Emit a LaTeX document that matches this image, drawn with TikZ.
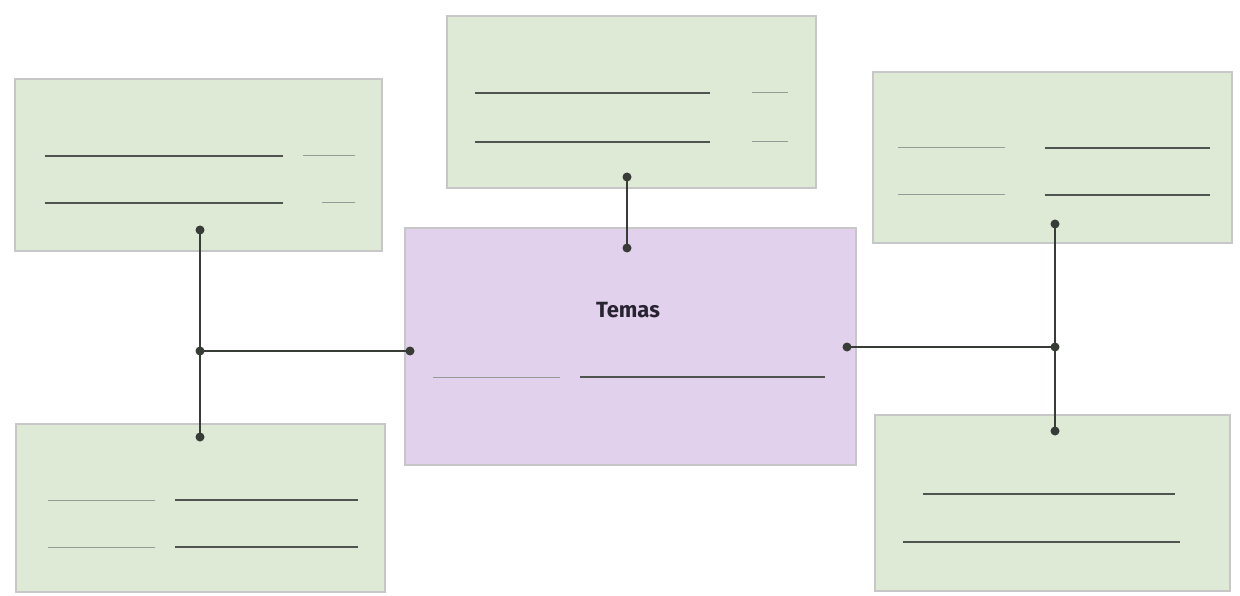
\documentclass[tikz,border=0pt]{standalone}
\usepackage{fontspec}
\setmainfont{Fira Sans}
\begin{document}
\begin{tikzpicture}[x=1pt,y=-1pt,
  greenbox/.style={draw=black!22,line width=1.6pt,fill={rgb,255:red,222;green,233;blue,214}},
  purplebox/.style={draw=black!22,line width=1.6pt,fill={rgb,255:red,226;green,209;blue,236}},
  rule/.style={draw={rgb,255:red,80;green,84;blue,80},line width=1.3pt},
  faint/.style={draw={rgb,255:red,150;green,155;blue,150},line width=1pt},
  dot/.style={circle,fill={rgb,255:red,55;green,60;blue,55},inner sep=0pt,minimum size=9pt},
  link/.style={draw={rgb,255:red,55;green,60;blue,55},line width=1.8pt}]
\useasboundingbox[fill=white] (0,0) rectangle (1240,596);
% boxes
\path[greenbox] (15,79) rectangle (382,251);
\path[greenbox] (447,16) rectangle (816,188);
\path[greenbox] (873,72) rectangle (1232,243);
\path[greenbox] (16,424) rectangle (385,592);
\path[greenbox] (875,415) rectangle (1230,591);
\path[purplebox] (405,228) rectangle (856,465);
% lines top-left
\draw[rule] (45,156) -- (283,156); \draw[faint] (303,156) -- (355,156);
\draw[rule] (45,203) -- (283,203); \draw[faint] (322,203) -- (355,203);
% lines top
\draw[rule] (475,93) -- (710,93); \draw[faint] (752,93) -- (788,93);
\draw[rule] (475,142) -- (710,142); \draw[faint] (752,142) -- (788,142);
% lines top-right
\draw[faint] (898,148) -- (1005,148); \draw[rule] (1045,148) -- (1210,148);
\draw[faint] (898,195) -- (1005,195); \draw[rule] (1045,195) -- (1210,195);
% lines bottom-left
\draw[faint] (48,500) -- (155,500); \draw[rule] (175,500) -- (358,500);
\draw[faint] (48,547) -- (155,547); \draw[rule] (175,547) -- (358,547);
% lines bottom-right
\draw[rule] (923,494) -- (1175,494);
\draw[rule] (903,542) -- (1180,542);
% center
\node[font=\fontsize{22}{26}\selectfont\bfseries,text={rgb,255:red,40;green,35;blue,50}] (temas) at (628,310) {Temas};
\draw[faint] (433,377) -- (560,377); \draw[rule] (580,377) -- (825,377);
% dots
\node[dot] (dTL) at (200,230) {};
\node[dot] (dBL) at (200,437) {};
\node[dot] (jL) at (200,351) {};
\node[dot] (cL) at (410,351) {};
\node[dot] (dT) at (627,177) {};
\node[dot] (cT) at (627,248) {};
\node[dot] (dTR) at (1055,224) {};
\node[dot] (dBR) at (1055,431) {};
\node[dot] (jR) at (1055,347) {};
\node[dot] (cR) at (847,347) {};
% connectors
\draw[link] (dTL.center) -- (dBL.center);
\draw[link] (jL.center) -- (cL.center);
\draw[link] (dT.center) -- (cT.center);
\draw[link] (dTR.center) -- (dBR.center);
\draw[link] (jR.center) -- (cR.center);
\end{tikzpicture}
\end{document}
